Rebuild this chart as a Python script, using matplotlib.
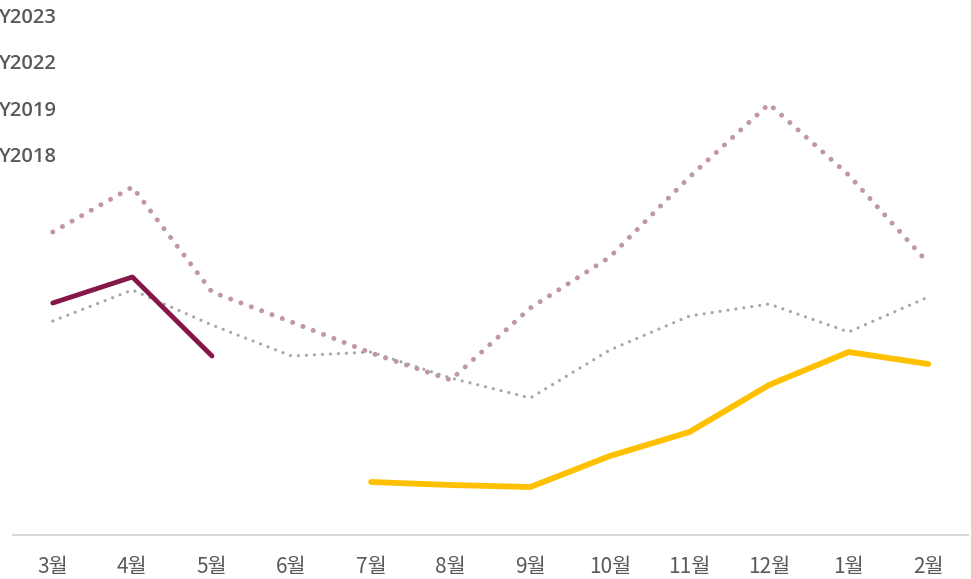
import matplotlib
matplotlib.use('Agg')
import matplotlib.pyplot as plt

plt.rcParams['font.family'] = ['Noto Sans CJK KR', 'DejaVu Sans']

months = ['3월', '4월', '5월', '6월', '7월', '8월', '9월', '10월', '11월', '12월', '1월', '2월']

# values (relative units, no y axis shown)
y2023 = [232, 258, 179, None, None, None, None, None, None, None, None, None]
y2022 = [None, None, None, None, 53, 50, 48, 79, 103, 150, 183, 171]
y2019 = [303, 348, 243, 213, 182, 155, 227, 278, 358, 431, 360, 272]
y2018 = [214, 245, 210, 179, 183, 157, 137, 185, 219, 231, 203, 238]

legend_labels = ['Y2023', 'Y2022', 'Y2019', 'Y2018']


def main():
    fig = plt.figure(figsize=(9.71, 5.79), dpi=100)
    ax = fig.add_axes([13 / 971, 44 / 579, 955 / 971, 535 / 579])

    x = list(range(len(months)))

    def pts(vals):
        xs = [i for i, v in zip(x, vals) if v is not None]
        ys = [v for v in vals if v is not None]
        return xs, ys

    ax.plot(*pts(y2019), color='#C096A8', lw=3.6,
            linestyle=(0, (0.01, 2.2)), dash_capstyle='round', zorder=2)
    ax.plot(*pts(y2018), color='#A6A6A6', lw=2.3,
            linestyle=(0, (0.01, 2.5)), dash_capstyle='round', zorder=2)
    ax.plot(*pts(y2022), color='#FFC000', lw=4.2,
            solid_capstyle='round', zorder=3)
    ax.plot(*pts(y2023), color='#861849', lw=3.5,
            solid_capstyle='round', zorder=3)

    ax.set_xlim(-0.5, len(months) - 0.5)
    ax.set_ylim(0, 535)
    ax.set_xticks(x)
    ax.set_xticklabels(months, fontsize=15, color='#595959')
    ax.tick_params(axis='x', length=0, pad=15)
    ax.set_yticks([])
    for side in ['top', 'right', 'left']:
        ax.spines[side].set_visible(False)
    ax.spines['bottom'].set_color('#D9D9D9')
    ax.spines['bottom'].set_linewidth(1.5)

    # legend, cut at the left edge in the original
    for i, lab in enumerate(legend_labels):
        fig.text(-0.002, 1 - (18 + 46.3 * i) / 579, lab, fontsize=14.5,
                 color='#595959', va='center', ha='left', fontweight='semibold',
                 family=['Open Sans', 'DejaVu Sans'])

    fig.savefig('out.png', dpi=100)


if __name__ == '__main__':
    main()
